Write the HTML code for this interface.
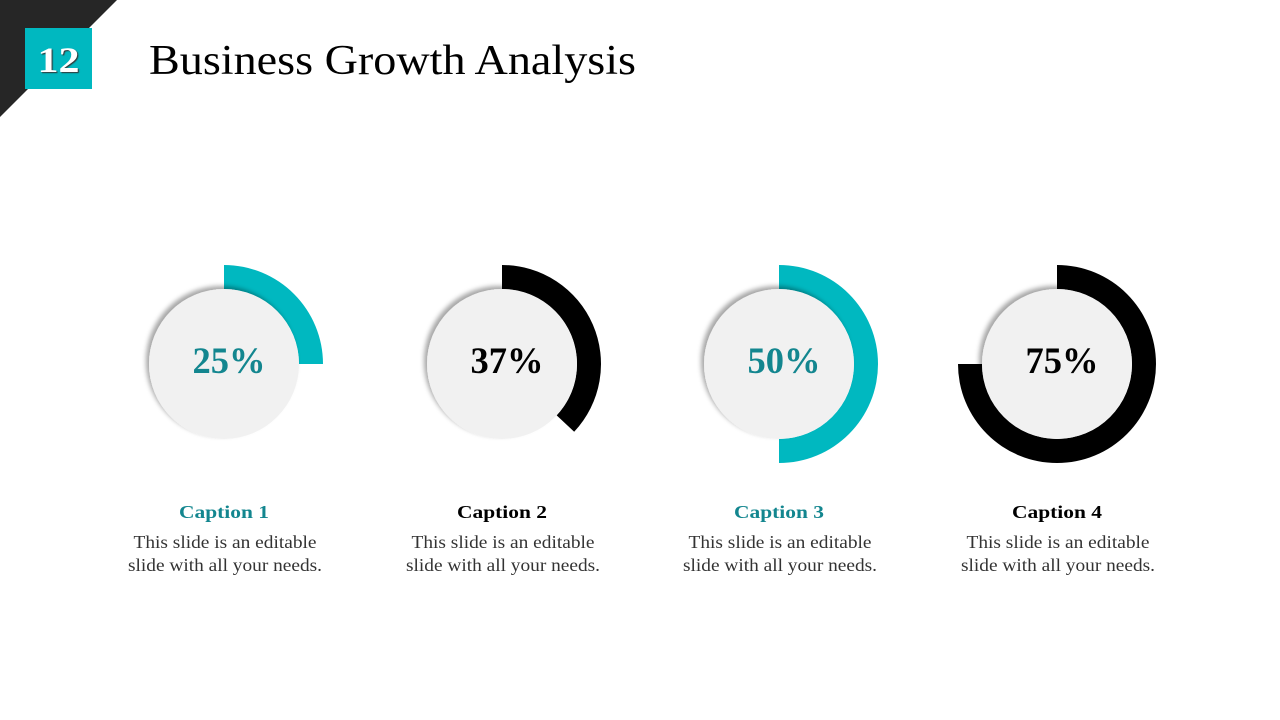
<!DOCTYPE html>
<html><head><meta charset="utf-8"><style>
html,body{margin:0;padding:0;background:#fff;}
body{width:1280px;height:720px;position:relative;overflow:hidden;font-family:"Liberation Serif",serif;}
</style></head><body>
<svg width="1280" height="720" viewBox="0 0 1280 720" style="position:absolute;left:0;top:0">
<defs>
<filter id="sh" x="-20%" y="-20%" width="140%" height="140%"><feDropShadow dx="-3" dy="-3" stdDeviation="2.5" flood-color="#000" flood-opacity="0.35"/></filter>
</defs>
<polygon points="0,0 117,0 0,117" fill="#262626"/>
<rect x="25" y="28" width="67" height="61" fill="#00b8c0"/>
<text x="58.5" y="72" text-anchor="middle" font-family="Liberation Serif, serif" font-weight="bold" font-size="36" textLength="42" lengthAdjust="spacingAndGlyphs" fill="#fff" style="text-shadow:1px 1px 1px #333">12</text>
<text x="149" y="74" font-family="Liberation Serif, serif" font-size="42" textLength="487" lengthAdjust="spacingAndGlyphs" fill="#000">Business Growth Analysis</text>
<g id="charts"></g>
</svg>
<script>
const values = [25, 37, 50, 75];
const labels = ["25%", "37%", "50%", "75%"];
const captions = ["Caption 1", "Caption 2", "Caption 3", "Caption 4"];
const ringColors = ["#00b8c0", "#000000", "#00b8c0", "#000000"];
const textColors = ["#13868f", "#000000", "#13868f", "#000000"];
const NS = "http://www.w3.org/2000/svg";
const g = document.getElementById('charts');
const cxs = [224, 502, 779, 1057], cy = 364, R = 99, r = 75;
function mk(tag, attrs){const e=document.createElementNS(NS,tag);for(const k in attrs)e.setAttribute(k,attrs[k]);g.appendChild(e);return e;}
function pt(cx,a,rad){return [cx+rad*Math.sin(a), cy-rad*Math.cos(a)];}
values.forEach((v,i)=>{
  const cx=cxs[i];
  const a=Math.min(v,99.99)/100*2*Math.PI;
  const large=a>Math.PI?1:0;
  const [x1,y1]=pt(cx,0,R),[x2,y2]=pt(cx,a,R),[x3,y3]=pt(cx,a,r),[x4,y4]=pt(cx,0,r);
  const arc=mk('path',{d:`M${x1},${y1} A${R},${R} 0 ${large} 1 ${x2},${y2} L${x3},${y3} A${r},${r} 0 ${large} 0 ${x4},${y4} Z`,fill:ringColors[i]});
  
  
  const c=mk('circle',{cx:cx,cy:cy,r:75,fill:'#f1f1f1',filter:'url(#sh)'});
  
  
  const t=mk('text',{x:cx+5,y:cy+9,'text-anchor':'middle','font-family':'Liberation Serif, serif','font-weight':'bold','font-size':'37',textLength:'73',lengthAdjust:'spacingAndGlyphs',fill:textColors[i]});
  t.textContent=labels[i];
  
  
  const cap=mk('text',{x:cx,y:518,'text-anchor':'middle','font-family':'Liberation Serif, serif','font-weight':'bold','font-size':'18',textLength:'90',lengthAdjust:'spacingAndGlyphs',fill:textColors[i]});
  cap.textContent=captions[i];
  
  
  ["This slide is an editable","slide with all your needs."].forEach((s,j)=>{
    const d=mk('text',{x:cx+1,y:548+j*23,'text-anchor':'middle','font-family':'Liberation Serif, serif','font-size':'18',textLength:j?'194':'183',lengthAdjust:'spacingAndGlyphs',fill:'#333'});
    d.textContent=s;
    
    
  });
});
</script>
</body></html>
